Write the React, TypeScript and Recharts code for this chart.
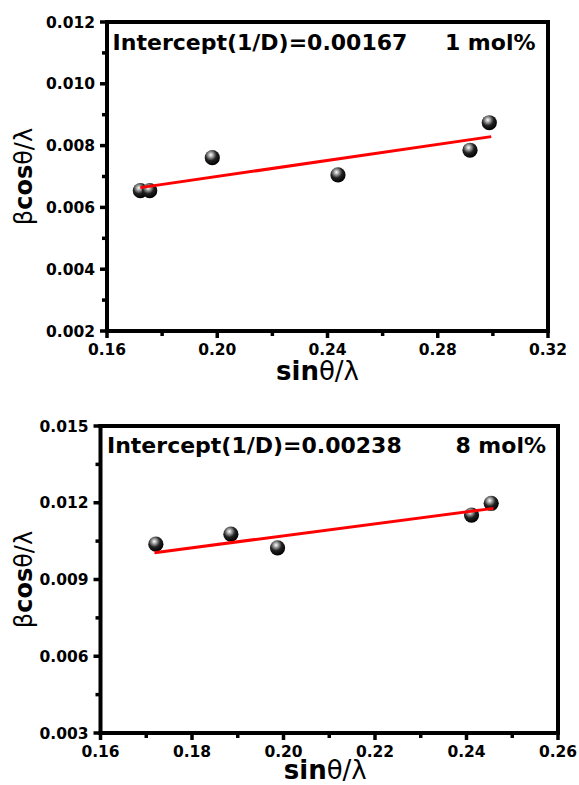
import React from "react";
import { Label, ReferenceLine, Scatter, ScatterChart, XAxis, YAxis } from "recharts";

// 1 mol% panel
const xTop = [0.1721, 0.1755, 0.1982, 0.2438, 0.2917, 0.2987];
const yTop = [0.00654, 0.00654, 0.00761, 0.00705, 0.00785, 0.00874];
const fitXTop = [0.1721, 0.2994];
const fitYTop = [0.00664, 0.00829];
const xMajorTop = [0.16, 0.2, 0.24, 0.28, 0.32];
const xMinorTop = [0.18, 0.22, 0.26, 0.3];
const yMajorTop = [0.002, 0.004, 0.006, 0.008, 0.01, 0.012];
const yMinorTop = [0.003, 0.005, 0.007, 0.009, 0.011];

// 8 mol% panel
const xBot = [0.1721, 0.1885, 0.1987, 0.2411, 0.2454];
const yBot = [0.01038, 0.01077, 0.01024, 0.01152, 0.01198];
const fitXBot = [0.1718, 0.2459];
const fitYBot = [0.01005, 0.01178];
const xMajorBot = [0.16, 0.18, 0.2, 0.22, 0.24, 0.26];
const xMinorBot = [0.17, 0.19, 0.21, 0.23, 0.25];
const yMajorBot = [0.003, 0.006, 0.009, 0.012, 0.015];
const yMinorBot = [0.0045, 0.0075, 0.0105, 0.0135];

const FONT = "'DejaVu Sans', sans-serif";
const toPts = (xs: number[], ys: number[]) => xs.map((x, i) => ({ x, y: ys[i] }));
const isMajor = (v: number, list: number[]) => list.some((m) => Math.abs(m - v) < 1e-9);
const byVal = (a: number[], b: number[]) => [...a, ...b].sort((p, q) => p - q);

function Ball(props: any) {
  const { cx, cy } = props;
  if (cx == null || cy == null) return <g />;
  return (
    <g>
      <defs>
        <radialGradient id="ball" cx="0.4" cy="0.32" r="0.68">
          <stop offset="0" stopColor="#ffffff" />
          <stop offset="0.22" stopColor="#a8a8a8" />
          <stop offset="0.55" stopColor="#222222" />
          <stop offset="1" stopColor="#000000" />
        </radialGradient>
      </defs>
      <circle cx={cx} cy={cy} r={7.6} fill="url(#ball)" />
    </g>
  );
}

const XTick = (major: number[], digits: number) => (p: any) => {
  const v = p.payload.value;
  const big = isMajor(v, major);
  return (
    <g>
      <line x1={p.x} y1={p.y} x2={p.x} y2={p.y + (big ? 7 : 5)} stroke="#000" strokeWidth={3.5} />
      {big && (
        <text x={p.x} y={p.y + 24} textAnchor="middle" fontFamily={FONT} fontWeight="bold" fontSize={15.5} fill="#000">
          {v.toFixed(digits)}
        </text>
      )}
    </g>
  );
};

const YTick = (major: number[]) => (p: any) => {
  const v = p.payload.value;
  const big = isMajor(v, major);
  return (
    <g>
      <line x1={p.x} y1={p.y} x2={p.x - (big ? 7 : 5)} y2={p.y} stroke="#000" strokeWidth={3.5} />
      {big && (
        <text x={p.x - 12} y={p.y + 5.5} textAnchor="end" fontFamily={FONT} fontWeight="bold" fontSize={15.5} fill="#000">
          {v.toFixed(3)}
        </text>
      )}
    </g>
  );
};

const XLabel = (shift: number, drop: number) => (p: any) => {
  const vb = p.viewBox;
  return (
    <text x={vb.x + vb.width / 2 + shift} y={vb.y + drop} textAnchor="middle" fontFamily={FONT} fontSize={26} fill="#000">
      <tspan fontWeight="bold">sin</tspan>
      <tspan>θ/λ</tspan>
    </text>
  );
};

const YLabel = (cxAbs: number) => (p: any) => {
  const vb = p.viewBox;
  const cy = vb.y + vb.height / 2;
  return (
    <text
      x={cxAbs}
      y={cy}
      transform={`rotate(-90, ${cxAbs}, ${cy})`}
      textAnchor="middle"
      dominantBaseline="central"
      fontFamily={FONT}
      fontSize={24}
      fill="#000"
    >
      <tspan>β</tspan>
      <tspan fontWeight="bold">cos</tspan>
      <tspan>θ/λ</tspan>
    </text>
  );
};

const axisStroke = { stroke: "#000", strokeWidth: 4, strokeLinecap: "square" as const };

function Panel(props: {
  height: number;
  top: number;
  right: number;
  yWidth: number;
  xHeight: number;
  pts: { x: number; y: number }[];
  fit: { x: number; y: number }[];
  xMajor: number[];
  xMinor: number[];
  yMajor: number[];
  yMinor: number[];
  xDigits: number;
  yLabelX: number;
  xLabelShift: number;
  xLabelDrop: number;
}) {
  const xDom = [props.xMajor[0], props.xMajor[props.xMajor.length - 1]];
  const yDom = [props.yMajor[0], props.yMajor[props.yMajor.length - 1]];
  return (
    <ScatterChart width={579} height={props.height} margin={{ top: props.top, right: props.right, left: 0, bottom: 0 }}>
      <XAxis
        type="number"
        dataKey="x"
        domain={xDom}
        allowDataOverflow
        ticks={byVal(props.xMajor, props.xMinor)}
        interval={0}
        tickSize={0}
        tickMargin={0}
        tickLine={false}
        axisLine={axisStroke}
        tick={XTick(props.xMajor, props.xDigits)}
        height={props.xHeight}
      >
        <Label content={XLabel(props.xLabelShift, props.xLabelDrop)} />
      </XAxis>
      <YAxis
        type="number"
        dataKey="y"
        domain={yDom}
        allowDataOverflow
        ticks={byVal(props.yMajor, props.yMinor)}
        interval={0}
        tickSize={0}
        tickMargin={0}
        tickLine={false}
        axisLine={axisStroke}
        tick={YTick(props.yMajor)}
        width={props.yWidth}
      >
        <Label content={YLabel(props.yLabelX)} />
      </YAxis>
      <ReferenceLine y={yDom[1]} stroke="#000" strokeWidth={4} strokeLinecap="square" />
      <ReferenceLine x={xDom[1]} stroke="#000" strokeWidth={4} strokeLinecap="square" />
      <Scatter data={props.pts} shape={Ball} isAnimationActive={false} />
      <Scatter
        data={props.fit}
        shape={() => <g />}
        line={{ stroke: "#ff0000", strokeWidth: 3 }}
        isAnimationActive={false}
      />
    </ScatterChart>
  );
}

export default function App() {
  const note = { fontFamily: FONT, fontWeight: "bold" as const, fontSize: 22, fill: "#000" };
  return (
    <div style={{ position: "absolute", left: 0, top: 0, width: 579, height: 785, background: "#fff" }}>
      <Panel
        height={392}
        top={22}
        right={31}
        yWidth={107}
        xHeight={61}
        pts={toPts(xTop, yTop)}
        fit={toPts(fitXTop, fitYTop)}
        xMajor={xMajorTop}
        xMinor={xMinorTop}
        yMajor={yMajorTop}
        yMinor={yMinorTop}
        xDigits={2}
        yLabelX={24}
        xLabelShift={-10}
        xLabelDrop={49}
      />
      <Panel
        height={393}
        top={34}
        right={21}
        yWidth={100.5}
        xHeight={52}
        pts={toPts(xBot, yBot)}
        fit={toPts(fitXBot, fitYBot)}
        xMajor={xMajorBot}
        xMinor={xMinorBot}
        yMajor={yMajorBot}
        yMinor={yMinorBot}
        xDigits={2}
        yLabelX={24}
        xLabelShift={-4}
        xLabelDrop={46}
      />
      <svg width={579} height={785} style={{ position: "absolute", left: 0, top: 0, pointerEvents: "none" }}>
        <text x={112.6} y={50} {...note}>Intercept(1/D)=0.00167</text>
        <text x={535.5} y={50} textAnchor="end" {...note}>1 mol%</text>
        <text x={107} y={453} {...note}>Intercept(1/D)=0.00238</text>
        <text x={546} y={453} textAnchor="end" {...note}>8 mol%</text>
      </svg>
    </div>
  );
}
